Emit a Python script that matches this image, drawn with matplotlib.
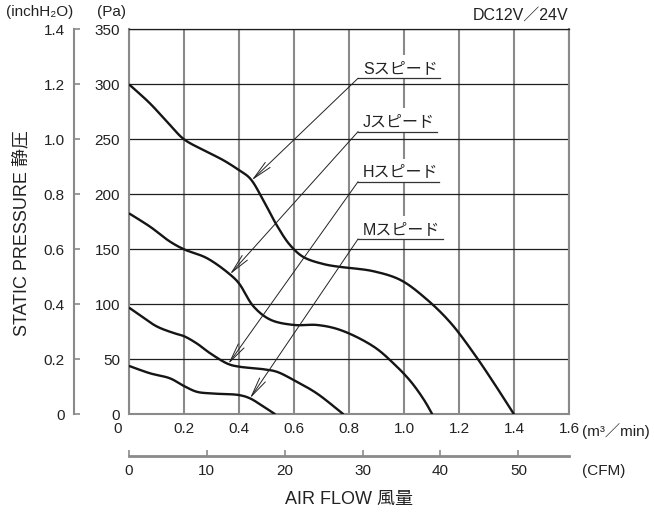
import numpy as np
import matplotlib.pyplot as plt
from matplotlib.patches import Rectangle

plt.rcParams['font.family'] = ['Liberation Sans', 'Noto Sans CJK JP', 'DejaVu Sans']

# 風量 (m3/min) と 静圧 (Pa)
flow_s = [0, 0.076, 0.149, 0.2, 0.283, 0.343, 0.40, 0.44, 0.488, 0.537, 0.585, 0.634, 0.707,
          0.767, 0.805, 0.89, 0.988, 1.085, 1.17, 1.255, 1.328, 1.40]
pa_s = [300, 282.7, 263, 250, 238.7, 231, 222, 214.5, 194.8, 172, 154, 143, 136.6,
        134, 133, 130, 122, 104, 83, 55, 28, 0]

flow_j = [0, 0.077, 0.149, 0.2, 0.283, 0.368, 0.4, 0.453, 0.514, 0.6, 0.684, 0.769,
          0.89, 0.963, 1.024, 1.073, 1.103]
pa_j = [182.7, 170.5, 157, 150, 142, 127, 119, 98, 86, 81.2, 81.2, 76.6,
        61.5, 46, 30, 13, 0]

flow_h = [0, 0.04, 0.1, 0.161, 0.2, 0.246, 0.295, 0.361, 0.4, 0.488, 0.537, 0.6, 0.683, 0.78]
pa_h = [97, 90, 80, 74, 71, 64.5, 55.5, 45.7, 43.3, 41, 38.7, 31, 19, 0]

flow_m = [0, 0.076, 0.149, 0.2, 0.246, 0.295, 0.4, 0.44, 0.489, 0.532]
pa_m = [44, 37.3, 32.7, 25.7, 20.5, 19, 17.5, 14.5, 7, 0]

curves = [(flow_s, pa_s), (flow_j, pa_j), (flow_h, pa_h), (flow_m, pa_m)]
speed_labels = ['Sスピード', 'Jスピード', 'Hスピード', 'Mスピード']
arrow_x = [0.446, 0.367, 0.361, 0.44]
label_y = [305.5, 257, 211.5, 159.4]
label_end = [1.131, 1.12, 1.127, 1.142]

m3_ticks = [0, 0.2, 0.4, 0.6, 0.8, 1.0, 1.2, 1.4, 1.6]
m3_labels = ['', '0.2', '0.4', '0.6', '0.8', '1.0', '1.2', '1.4', '1.6']
pa_ticks = [0, 50, 100, 150, 200, 250, 300, 350]
inch_ticks = [0, 0.2, 0.4, 0.6, 0.8, 1.0, 1.2, 1.4]
inch_labels = ['0', '0.2', '0.4', '0.6', '0.8', '1.0', '1.2', '1.4']
cfm_ticks = [0, 10, 20, 30, 40, 50]

W, H = 654, 513
TXT = '#222222'
GRAY = '#8a8a8a'


def smooth(xs, ys, n=30, kx=275.0, ky=1.1):
    # centripetal Catmull-Rom, computed in pixel-like units
    p = np.column_stack([np.asarray(xs) * kx, np.asarray(ys) * ky])
    p = np.vstack([2 * p[0] - p[1], p, 2 * p[-1] - p[-2]])
    out = []
    for i in range(1, len(p) - 2):
        p0, p1, p2, p3 = p[i - 1], p[i], p[i + 1], p[i + 2]
        t0 = 0.0
        t1 = t0 + np.linalg.norm(p1 - p0) ** 0.5
        t2 = t1 + np.linalg.norm(p2 - p1) ** 0.5
        t3 = t2 + np.linalg.norm(p3 - p2) ** 0.5
        t = np.linspace(t1, t2, n, endpoint=False)[:, None]
        a1 = (t1 - t) / (t1 - t0) * p0 + (t - t0) / (t1 - t0) * p1
        a2 = (t2 - t) / (t2 - t1) * p1 + (t - t1) / (t2 - t1) * p2
        a3 = (t3 - t) / (t3 - t2) * p2 + (t - t2) / (t3 - t2) * p3
        b1 = (t2 - t) / (t2 - t0) * a1 + (t - t0) / (t2 - t0) * a2
        b2 = (t3 - t) / (t3 - t1) * a2 + (t - t1) / (t3 - t1) * a3
        out.append((t2 - t) / (t2 - t1) * b1 + (t - t1) / (t2 - t1) * b2)
    out.append(p[-2][None, :])
    out = np.vstack(out)
    return out[:, 0] / kx, out[:, 1] / ky


fig = plt.figure(figsize=(W / 100, H / 100), dpi=100)
ax = fig.add_axes([129 / W, 1 - 414.3 / H, 440 / W, 385 / H])
ax.set_xlim(0, 1.6)
ax.set_ylim(0, 350)

ax.set_xticks(m3_ticks, labels=m3_labels)
ax.set_yticks(pa_ticks, labels=[str(v) for v in pa_ticks])
ax.tick_params(axis='x', length=0, pad=5.5, labelsize=11, labelcolor=TXT)
ax.tick_params(axis='y', length=0, pad=6.5, labelsize=11, labelcolor=TXT)
ax.xaxis.grid(True, color=GRAY, lw=1.5, zorder=0)
ax.yaxis.grid(True, color='#1e1e1e', lw=0.9, zorder=0)
ax.set_axisbelow(True)
for side in ['left', 'right', 'bottom']:
    ax.spines[side].set_color(GRAY)
    ax.spines[side].set_linewidth(1.5)
ax.spines['top'].set_color('#1e1e1e')
ax.spines['top'].set_linewidth(0.9)

ax.annotate('0', xy=(0, 0), xytext=(-8.4, -5.5), textcoords='offset points',
            ha='center', va='top', fontsize=11, color=TXT)

smoothed = [smooth(fx, py) for fx, py in curves]
for sx, sy in smoothed:
    ax.plot(sx, sy, color='#151515', lw=1.7, zorder=3, solid_capstyle='butt')

for i, (sx, sy) in enumerate(smoothed):
    order = np.argsort(sx)
    ty = np.interp(arrow_x[i], sx[order], sy[order])
    y0 = label_y[i]
    ax.add_patch(Rectangle((0.83, y0), 0.33, 21, fc='white', ec='none', zorder=2))
    ax.plot([0.833, label_end[i]], [y0, y0], color='#333333', lw=0.9, zorder=4)
    ax.text(0.851, y0 + 4.8, speed_labels[i], fontsize=11.5, color=TXT,
            ha='left', va='baseline', zorder=5)
    ax.annotate('', xy=(arrow_x[i], ty), xytext=(0.833, y0),
                arrowprops=dict(arrowstyle='->,head_length=1.4,head_width=0.25',
                                lw=0.7, color='#222222', shrinkA=0, shrinkB=0),
                zorder=4)

# CFM axis
sec = ax.secondary_xaxis(-0.108, functions=(lambda x: x * 35.315, lambda c: c / 35.315))
sec.set_xticks(cfm_ticks, labels=[str(v) for v in cfm_ticks])
sec.spines['bottom'].set_color(GRAY)
sec.spines['bottom'].set_linewidth(2)
sec.tick_params(direction='in', length=4, width=1.2, color=GRAY, pad=5.5,
                labelsize=11, labelcolor=TXT)

# inchH2O axis
secy = ax.secondary_yaxis(-0.125, functions=(lambda p: p / 250, lambda v: v * 250))
secy.set_yticks(inch_ticks, labels=inch_labels)
secy.spines['left'].set_color(GRAY)
secy.spines['left'].set_linewidth(1.5)
secy.tick_params(direction='in', length=4.3, width=1.2, color=GRAY, pad=6.5,
                 labelsize=11, labelcolor=TXT)


def ftext(x, y, s, **kw):
    kw.setdefault('color', TXT)
    fig.text(x / W, 1 - y / H, s, **kw)


ftext(6, 12, '(inchH₂O)', fontsize=11, ha='left', va='center')
ftext(97, 12, '(Pa)', fontsize=11, ha='left', va='center')
ftext(568, 15, 'DC12V／24V', fontsize=11.5, ha='right', va='center')
ftext(582, 431, '(m³／min)', fontsize=11, ha='left', va='center')
ftext(582, 471, '(CFM)', fontsize=11, ha='left', va='center')
ftext(349, 499, 'AIR FLOW 風量', fontsize=13, ha='center', va='center')
ftext(21.5, 233, 'STATIC PRESSURE 静圧', fontsize=13, ha='center', va='center', rotation=90)

fig.savefig('out.png', dpi=100)
